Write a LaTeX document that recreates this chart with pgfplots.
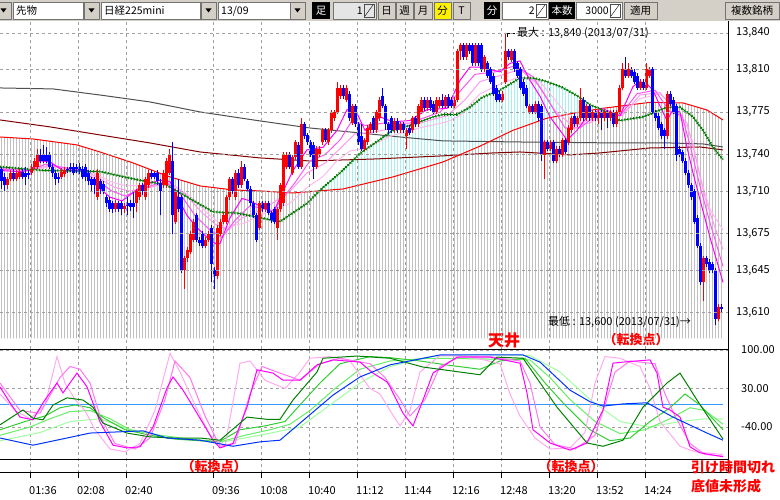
\documentclass[border=0pt]{standalone}
\usepackage{pgfplots}
\pgfplotsset{compat=1.18}
\usepackage{pgfplotstable}
\usepgfplotslibrary{fillbetween}
\usepackage{fontspec}
\setmainfont{Noto Sans CJK JP}

\definecolor{tbface}{HTML}{D4D0C8}
\definecolor{upred}{HTML}{FF0000}
\definecolor{dnblue}{HTML}{0000FF}
\definecolor{maroon}{HTML}{800000}
\definecolor{magray}{HTML}{505050}
\definecolor{magreen}{HTML}{007A00}
\definecolor{stripegray}{HTML}{C0C0C0}
\definecolor{stripecyan}{HTML}{A8F0F0}
\definecolor{gridgray}{HTML}{A0A0A0}
\definecolor{rib1}{HTML}{FF00FF}
\definecolor{rib2}{HTML}{FF55F5}
\definecolor{rib3}{HTML}{FF99F0}
\definecolor{rib4}{HTML}{FFBBEE}
\definecolor{oscblue}{HTML}{0033FF}
\definecolor{zeroblue}{HTML}{3399FF}
\definecolor{g1}{HTML}{008000}
\definecolor{g2}{HTML}{33CC33}
\definecolor{g3}{HTML}{66EE66}
\definecolor{g4}{HTML}{A0FFA0}
\definecolor{pk1}{HTML}{FF00FF}
\definecolor{pk2}{HTML}{FF77EE}
\definecolor{pk3}{HTML}{FFAAEE}

\newcommand\tbfont{\fontsize{10.5}{11}\selectfont}
\newcommand\lblfont{\fontsize{11}{12}\selectfont}
\newcommand\redfont[1]{\fontsize{#1}{#1}\selectfont\bfseries}

% toolbar pieces
\newcommand\ddbtn[1]{\filldraw[fill=tbface,draw=black!55] (#1,481) rectangle ++(15,17);
  \fill[black] (#1+4.5,491.5) -- ++(6,0) -- ++(-3,-4) -- cycle;}
\newcommand\field[3]{\filldraw[fill=white,draw=black!55] (#1,481) rectangle (#2,498);
  \node[anchor=west,inner sep=0pt,font=\tbfont] at (#1+3,489) {#3};}
\newcommand\btn[4]{\filldraw[fill=#4,draw=black!55] (#1,481) rectangle (#2,498);
  \node[font=\tbfont,inner sep=0pt] at ({(#1+#2)/2},489) {#3};}
\newcommand\blk[3]{\fill[black] (#1,481) rectangle (#2,498);
  \node[font=\tbfont,text=white,inner sep=0pt] at ({(#1+#2)/2},489) {#3};}
\newcommand\spin[4]{\filldraw[fill=#4,draw=black!55] (#1,481) rectangle (#2,498);
  \node[anchor=east,font=\tbfont,inner sep=0pt] at (#2-13,489) {#3};
  \draw[black!70] (#2-12,483) rectangle (#2-2,496); \draw (#2-11,484) -- (#2-3,495);}

\pgfplotsset{
  nomark/.style={only marks, mark=*, mark size=0pt, mark options={draw=none, fill=none}, forget plot},
  wick/.style={nomark,
    error bars/y dir=plus, error bars/y explicit, error bars/error mark=none,
    error bars/error bar style={line width=1pt, draw=#1, solid}},
  body/.style={nomark,
    error bars/y dir=plus, error bars/y explicit, error bars/error mark=none,
    error bars/error bar style={line width=3pt, draw=#1, solid}},
}

% 2-minute bars: bar index, open, high, low, close
\pgfplotstableread{
i o h l c
0 13728 13730 13712 13718
1 13722 13725 13710 13715
2 13715 13722 13712 13720
3 13720 13727 13718 13725
4 13725 13728 13718 13720
5 13720 13727 13718 13725
6 13722 13728 13720 13726
7 13726 13728 13720 13722
8 13725 13730 13715 13722
9 13725 13727 13720 13723
10 13725 13732 13723 13730
11 13730 13737 13728 13735
12 13730 13745 13728 13740
13 13740 13745 13733 13735
14 13740 13748 13733 13735
15 13740 13746 13733 13735
16 13740 13742 13728 13730
17 13730 13732 13722 13725
18 13725 13727 13715 13720
19 13722 13725 13717 13720
20 13722 13729 13720 13726
21 13724 13730 13722 13727
22 13728 13730 13725 13727
23 13730 13733 13726 13728
24 13730 13733 13723 13725
25 13730 13732 13725 13728
26 13730 13733 13724 13727
27 13728 13731 13720 13722
28 13730 13732 13718 13722
29 13725 13727 13715 13718
30 13720 13722 13710 13715
31 13720 13722 13708 13715
32 13705 13728 13703 13725
33 13718 13720 13708 13712
34 13716 13718 13708 13710
35 13705 13707 13697 13700
36 13703 13705 13693 13695
37 13700 13702 13692 13695
38 13695 13703 13693 13700
39 13700 13702 13693 13695
40 13700 13702 13690 13695
41 13695 13700 13692 13698
42 13700 13705 13690 13698
43 13700 13703 13694 13697
44 13700 13710 13688 13697
45 13700 13712 13693 13710
46 13705 13717 13703 13715
47 13715 13717 13707 13710
48 13705 13722 13703 13720
49 13715 13727 13713 13725
50 13725 13727 13720 13722
51 13725 13726 13720 13722
52 13725 13727 13715 13718
53 13717 13720 13690 13710
54 13715 13727 13713 13725
55 13715 13737 13713 13735
56 13725 13745 13723 13740
57 13735 13750 13675 13690
58 13685 13712 13683 13710
59 13705 13720 13693 13695
60 13705 13707 13643 13645
61 13645 13657 13630 13655
62 13655 13664 13652 13662
63 13660 13677 13658 13675
64 13670 13687 13668 13685
65 13690 13692 13668 13670
66 13670 13672 13665 13667
67 13675 13677 13663 13665
68 13665 13672 13663 13670
69 13670 13677 13668 13675
70 13680 13682 13635 13650
71 13645 13648 13630 13640
72 13640 13682 13638 13680
73 13675 13687 13673 13685
74 13685 13692 13683 13690
75 13685 13707 13683 13705
76 13705 13722 13703 13720
77 13720 13722 13708 13710
78 13705 13727 13703 13725
79 13725 13728 13713 13715
80 13715 13735 13713 13730
81 13730 13732 13718 13720
82 13718 13720 13710 13712
83 13712 13714 13698 13700
84 13700 13702 13688 13690
85 13690 13692 13668 13670
86 13680 13702 13678 13700
87 13700 13702 13693 13695
88 13695 13702 13693 13700
89 13700 13702 13690 13692
90 13692 13694 13684 13686
91 13695 13697 13683 13685
92 13680 13697 13670 13695
93 13695 13717 13693 13715
94 13700 13742 13698 13740
95 13730 13742 13728 13740
96 13740 13742 13728 13730
97 13725 13740 13723 13738
98 13738 13752 13736 13750
99 13748 13750 13728 13730
100 13730 13770 13728 13765
101 13765 13767 13753 13755
102 13756 13758 13748 13750
103 13750 13752 13738 13740
104 13748 13750 13720 13730
105 13730 13747 13728 13745
106 13740 13747 13738 13745
107 13750 13762 13748 13760
108 13760 13762 13750 13752
109 13750 13762 13748 13760
110 13760 13777 13758 13775
111 13770 13777 13768 13775
112 13775 13800 13773 13795
113 13788 13797 13786 13795
114 13795 13797 13786 13788
115 13785 13797 13783 13795
116 13790 13792 13768 13770
117 13766 13782 13764 13780
118 13780 13782 13763 13765
119 13765 13767 13748 13750
120 13755 13765 13743 13745
121 13745 13754 13743 13752
122 13750 13764 13748 13762
123 13760 13767 13758 13765
124 13770 13772 13758 13760
125 13760 13777 13758 13775
126 13770 13787 13768 13785
127 13788 13795 13778 13780
128 13780 13782 13760 13765
129 13765 13767 13757 13760
130 13770 13772 13758 13760
131 13760 13770 13758 13768
132 13768 13770 13758 13760
133 13760 13767 13758 13765
134 13765 13767 13758 13760
135 13755 13762 13745 13760
136 13762 13764 13756 13758
137 13760 13772 13758 13770
138 13770 13772 13763 13765
139 13765 13782 13763 13780
140 13775 13787 13773 13785
141 13785 13787 13776 13778
142 13778 13787 13776 13785
143 13785 13787 13776 13778
144 13782 13784 13773 13775
145 13775 13787 13773 13785
146 13780 13787 13778 13785
147 13785 13790 13778 13780
148 13780 13789 13778 13787
149 13787 13790 13778 13780
150 13785 13787 13778 13780
151 13780 13787 13778 13785
152 13785 13827 13783 13825
153 13825 13832 13818 13830
154 13830 13832 13818 13820
155 13820 13832 13818 13830
156 13830 13832 13823 13825
157 13830 13832 13813 13815
158 13815 13832 13813 13830
159 13830 13832 13813 13815
160 13830 13832 13808 13810
161 13810 13822 13808 13820
162 13815 13817 13803 13805
163 13810 13812 13798 13800
164 13805 13807 13788 13790
165 13795 13797 13783 13785
166 13790 13792 13783 13785
167 13785 13792 13783 13790
168 13800 13840 13798 13825
169 13825 13827 13818 13820
170 13818 13827 13816 13825
171 13825 13827 13808 13810
172 13815 13817 13803 13805
173 13810 13812 13793 13795
174 13800 13802 13788 13790
175 13795 13797 13778 13780
176 13775 13782 13773 13780
177 13780 13782 13773 13775
178 13775 13784 13773 13782
179 13782 13784 13768 13770
180 13780 13782 13735 13740
181 13740 13752 13720 13750
182 13750 13752 13743 13745
183 13745 13752 13743 13750
184 13750 13752 13733 13735
185 13735 13747 13733 13745
186 13745 13747 13738 13740
187 13740 13754 13738 13752
188 13752 13754 13740 13742
189 13750 13764 13748 13762
190 13760 13772 13758 13770
191 13772 13774 13763 13765
192 13765 13772 13763 13770
193 13770 13795 13768 13785
194 13785 13787 13768 13770
195 13770 13782 13768 13780
196 13780 13782 13768 13770
197 13770 13777 13768 13775
198 13775 13777 13768 13770
199 13770 13777 13765 13775
200 13775 13777 13760 13770
201 13770 13777 13768 13775
202 13775 13777 13762 13770
203 13770 13777 13768 13775
204 13775 13777 13763 13765
205 13765 13777 13763 13775
206 13775 13797 13773 13795
207 13795 13815 13793 13810
208 13810 13820 13803 13805
209 13805 13815 13803 13810
210 13810 13812 13803 13805
211 13808 13810 13798 13800
212 13805 13807 13793 13795
213 13795 13802 13793 13800
214 13800 13802 13793 13795
215 13795 13815 13793 13810
216 13805 13812 13803 13810
217 13810 13812 13773 13775
218 13775 13777 13768 13770
219 13772 13774 13760 13762
220 13765 13767 13753 13755
221 13760 13762 13745 13755
222 13755 13792 13753 13790
223 13790 13792 13780 13782
224 13785 13787 13773 13775
225 13780 13782 13735 13740
226 13745 13747 13738 13740
227 13742 13744 13733 13735
228 13735 13737 13723 13725
229 13725 13727 13713 13715
230 13715 13717 13703 13705
231 13710 13712 13683 13685
232 13688 13690 13663 13665
233 13665 13667 13633 13635
234 13635 13657 13620 13655
235 13655 13657 13648 13650
236 13652 13654 13643 13645
237 13650 13652 13643 13645
238 13645 13647 13600 13605
239 13605 13617 13603 13615
240 13615 13617 13611 13613
}\candles

% moving averages (x = chart position, same scale as the bars)
\pgfplotstableread{
x y
0 13754.5
33 13752.9
77 13748
100 13742.2
133 13733.2
167 13722.5
200 13714.3
233 13711
260 13710.2
293 13708.5
343 13711.8
393 13721.7
443 13734
480 13747
513 13760
547 13770
580 13775
602 13778
650 13783
683 13782.5
700 13778.4
707 13776.7
723 13768.5
}\redma

\pgfplotstableread{
x y
0 13730
43.5 13727
100.5 13726
139.5 13719
166.5 13715
187.5 13705
213 13693
237 13692
273 13686
280 13685
307 13700
323 13713
340 13725
360 13741
393 13760
410 13764
433 13771
443 13773
457 13773
470 13779
482 13787
500 13793
520 13803
533 13803
547 13800
563 13795
580 13787
590 13781
602 13777
620 13768
643 13771
667 13779
680 13779
693 13771
703 13760
713 13746
723 13736
}\greenma

\pgfplotstableread{
x y
0 13768.5
50 13762.8
100 13756.2
150 13749.6
200 13742.2
260 13737.3
310 13734.8
377 13736.5
443 13739
493 13741.4
520 13742.2
570 13739.8
600 13741.4
650 13745.5
700 13746.3
723 13743.9
}\maroonma

\pgfplotstableread{
x y
0 13794.8
53 13794
100 13789
150 13783.3
200 13775.1
260 13767.7
310 13761.9
360 13757.8
400 13754.5
443 13751.3
520 13750.4
620 13749.6
670 13749.6
703 13748.8
723 13746.3
}\grayma

\begin{document}
\begin{tikzpicture}[x=1pt,y=1pt]

% ---- price panel ----
\begin{axis}[
  at={(0pt,151pt)}, anchor=south west, scale only axis,
  width=728pt, height=327pt,
  xmin=0, xmax=728, ymin=13580.3, ymax=13849,
  axis line style={draw=none}, tick style={draw=none},
  axis on top,
  xtick={30,78,126,213,261,309,357,405,453,501,549,597,645},
  xticklabels={},
  ytick={13610,13645,13675,13710,13740,13775,13810,13840},
  yticklabels={{13,610},{13,645},{13,675},{13,710},{13,740},{13,775},{13,810},{13,840}},
  yticklabel pos=right,
  yticklabel style={anchor=west, inner sep=0pt, xshift=8pt, font=\lblfont},
  grid=major,
  grid style={draw=gridgray, line width=0.8pt, dash pattern=on 3pt off 3pt},
]
\addplot[draw=none, name path=redpath, forget plot] table {\redma};
\addplot[draw=none, name path=greenpath, forget plot] table {\greenma};
\addplot[draw=none, name path=bot, forget plot] coordinates {(0,13589) (728,13589)};
\addplot[fill=stripegray, draw=none, forget plot]
  fill between[of=redpath and bot, soft clip={domain=0:723}];
\addplot[fill=stripecyan, draw=none, forget plot]
  fill between[of=greenpath and redpath, soft clip={domain=316:600}];
% white gaps between the per-bar stripes (kept inside the panel)
\addplot[nomark, error bars/y dir=plus, error bars/y explicit, error bars/error mark=none,
  error bars/error bar style={line width=1.6pt, draw=white, solid}]
  table[x expr=3*\thisrow{i}+3, y expr=13588, y error plus expr=255] {\candles};
\addplot[nomark, error bars/y dir=plus, error bars/y explicit, error bars/error mark=none,
  error bars/error bar style={line width=1.6pt, draw=white, solid}]
  coordinates {(0,13588) +- (0,255)};

\addplot[magray, line width=1pt] table {\grayma};
\addplot[maroon, line width=1pt] table {\maroonma};
\addplot[upred, line width=1pt] table {\redma};

% fast average ribbon
\addplot[rib4, line width=1pt] coordinates {
(0,13729)(30,13727)(50,13730)(73,13728)(93,13725)(110,13718)(122,13715)(150,13714)
(170,13716)(190,13706)(210,13690)(225,13680)(245,13684)(270,13694)(290,13700)(307,13713)
(323,13722)(337,13735)(350,13743)(365,13745)(390,13755)(420,13762)(447,13767)(460,13772)
(480,13790)(500,13798)(520,13804)(540,13800)(560,13780)(575,13765)(590,13768)(602,13772)
(620,13772)(640,13786)(660,13790)(673,13780)(687,13763)(693,13750)(700,13722)(710,13695)(723,13678)};
\addplot[rib3, line width=1pt] coordinates {
(0,13729)(30,13727)(48,13731)(65,13729)(85,13727)(100,13720)(115,13713)(130,13710)
(150,13713)(170,13717)(185,13708)(200,13694)(215,13683)(228,13678)(242,13688)(265,13696)
(290,13710)(307,13725)(325,13733)(340,13745)(355,13757)(370,13758)(395,13762)(420,13766)
(447,13772)(465,13785)(480,13800)(500,13805)(520,13810)(540,13796)(555,13776)(572,13764)
(590,13766)(605,13774)(622,13772)(640,13789)(660,13791)(675,13776)(687,13766)(695,13740)
(705,13705)(715,13680)(723,13662)};
\addplot[rib2, line width=1pt] coordinates {
(0,13728)(30,13727)(45,13732)(60,13730)(80,13727)(95,13720)(112,13710)(125,13706)
(145,13713)(165,13718)(180,13708)(195,13690)(210,13678)(222,13672)(235,13686)(250,13698)
(273,13694)(295,13717)(310,13735)(325,13740)(340,13752)(352,13768)(365,13764)(385,13766)
(410,13766)(440,13775)(460,13792)(475,13806)(495,13808)(515,13813)(533,13804)(550,13782)
(565,13762)(580,13762)(602,13776)(620,13772)(637,13790)(655,13793)(670,13775)(682,13772)
(690,13748)(700,13714)(710,13684)(723,13648)};
\addplot[rib1, line width=1pt] coordinates {
(0,13727)(20,13726)(30,13727)(40,13735)(50,13734)(63,13727)(73,13727)(83,13727)
(93,13717)(110,13705)(122,13702)(143,13715)(160,13719)(170,13718)(180,13701)(187,13690)
(197,13680)(207,13672)(217,13666)(220,13667)(230,13688)(242,13704)(250,13702)(273,13692)
(293,13727)(307,13744)(323,13746)(337,13760)(347,13777)(357,13774)(365,13760)(380,13771)
(393,13767)(410,13768)(427,13777)(447,13778)(460,13801)(470,13812)(480,13812)(490,13810)
(500,13808)(510,13815)(520,13817)(530,13801)(540,13788)(550,13771)(560,13760)(567,13752)
(577,13760)(587,13771)(602,13778)(620,13772)(633,13796)(640,13800)(647,13798)(653,13793)
(660,13780)(667,13768)(673,13777)(680,13775)(687,13746)(693,13725)(700,13703)(710,13672)(723,13635)};

% dotted green average
\addplot[magreen, line width=0.8pt] table {\greenma};
\addplot[magreen, line width=2.6pt, dash pattern=on 0.9pt off 2.1pt] table {\greenma};

% candles: wicks then bodies
\addplot[wick=upred, restrict expr to domain={\thisrow{c}-\thisrow{o}}{0:1000}]
  table[x expr=3*\thisrow{i}+1.5, y=l, y error plus expr=\thisrow{h}-\thisrow{l}] {\candles};
\addplot[wick=dnblue, restrict expr to domain={\thisrow{c}-\thisrow{o}}{-1000:-0.5}]
  table[x expr=3*\thisrow{i}+1.5, y=l, y error plus expr=\thisrow{h}-\thisrow{l}] {\candles};
\addplot[body=upred, restrict expr to domain={\thisrow{c}-\thisrow{o}}{0:1000}]
  table[x expr=3*\thisrow{i}+1.5, y=o, y error plus expr={max(\thisrow{c}-\thisrow{o},1)}] {\candles};
\addplot[body=dnblue, restrict expr to domain={\thisrow{c}-\thisrow{o}}{-1000:-0.5}]
  table[x expr=3*\thisrow{i}+1.5, y=c, y error plus expr={max(\thisrow{o}-\thisrow{c},1)}] {\candles};
\end{axis}

% ---- toolbar ----
\fill[tbface] (0,479) rectangle (780,500);
\ddbtn{-4}
\field{13}{83}{先物}\ddbtn{84}
\field{101}{200}{日経225mini}\ddbtn{201}
\field{218}{290}{13/09}\ddbtn{290}
\blk{312}{330}{足}
\spin{333}{376}{1}{black!10}
\btn{378}{395}{日}{tbface}
\btn{396}{413}{週}{tbface}
\btn{414}{432}{月}{tbface}
\btn{434}{451}{分}{yellow}
\btn{453}{470}{T}{tbface}
\blk{484}{500}{分}
\spin{502}{548}{2}{white}
\blk{549}{575}{本数}
\spin{576}{622}{3000}{white}
\btn{624}{657}{適用}{tbface}
\btn{725}{779}{複数銘柄}{tbface}

% ---- oscillator panel ----
\begin{axis}[
  at={(0pt,27pt)}, anchor=south west, scale only axis,
  width=728pt, height=124pt,
  xmin=0, xmax=728, ymin=-123.6, ymax=101.8,
  axis line style={draw=none},
  xtick={30,78,126,213,261,309,357,405,453,501,549,597,645},
  xticklabels={01:36,02:08,02:40,09:36,10:08,10:40,11:12,11:44,12:16,12:48,13:20,13:52,14:24},
  xtick pos=left, tick align=outside, major tick length=5pt,
  xtick style={draw=black, line width=0.8pt},
  xticklabel style={anchor=north west, inner sep=0pt, yshift=-8pt, xshift=-1pt, font=\lblfont},
  ytick={-40,30,100},
  yticklabels={-40.00,30.00,100.00},
  yticklabel pos=right, ytick style={draw=none},
  yticklabel style={anchor=west, inner sep=0pt, xshift=8pt, font=\lblfont},
  grid=major,
  grid style={draw=gridgray, line width=0.8pt, dash pattern=on 3pt off 3pt},
]
\addplot[zeroblue, line width=1pt] coordinates {(0,0) (723,0)};
\addplot[g4, line width=1pt] coordinates {
(0,-65)(40,-50)(70,-30)(100,-25)(130,-45)(170,-60)(220,-68)(260,-55)(300,-40)(330,0)
(360,40)(390,70)(430,88)(480,92)(530,90)(560,60)(590,10)(620,-30)(650,-40)(680,-30)(705,-25)(723,-25)};
\addplot[g3, line width=1pt] coordinates {
(0,-55)(30,-40)(50,-25)(70,-12)(90,-10)(110,-25)(130,-45)(160,-55)(190,-62)(220,-67)
(245,-55)(270,-45)(290,-35)(310,-10)(335,30)(360,65)(390,80)(430,85)(470,84)(510,83)
(530,82)(550,50)(570,10)(595,-30)(620,-52)(645,-45)(670,-25)(690,-5)(705,-10)(723,-35)};
\addplot[g2, line width=1pt] coordinates {
(0,-45)(25,-30)(45,-20)(60,-5)(75,0)(90,-5)(105,-25)(125,-45)(150,-55)(175,-62)(200,-65)
(220,-66)(240,-45)(265,-38)(285,-30)(300,0)(320,40)(340,75)(370,88)(390,86)(420,80)
(450,72)(480,65)(500,80)(525,85)(545,40)(565,0)(590,-45)(610,-65)(630,-60)(650,-30)
(670,-5)(685,20)(700,0)(723,-45)};
\addplot[pk3, line width=1pt] coordinates {
(0,20)(15,-10)(30,-25)(45,0)(57,88)(65,40)(75,10)(85,-10)(95,-45)(110,-80)(125,-85)
(140,-70)(155,-10)(170,94)(180,60)(195,0)(210,-55)(225,-75)(240,76)(250,80)(265,45)
(285,30)(300,60)(310,85)(330,88)(350,80)(370,30)(380,20)(390,-10)(400,-38)(410,-10)
(420,60)(440,90)(470,88)(500,75)(510,20)(520,-20)(535,-60)(550,-80)(570,-78)(585,-50)
(595,40)(605,88)(620,85)(640,70)(650,30)(660,-30)(680,-75)(695,-85)(723,-90)};
\addplot[pk2, line width=1pt] coordinates {
(0,40)(20,-10)(40,-15)(60,50)(70,70)(80,65)(90,40)(100,-20)(115,-70)(135,-80)(150,-60)
(165,10)(175,80)(190,50)(205,-20)(220,-75)(235,-70)(250,20)(262,70)(280,58)(300,45)
(320,75)(340,85)(370,75)(385,50)(400,10)(410,-20)(425,10)(440,70)(460,88)(490,88)
(520,80)(530,40)(540,-40)(555,-72)(575,-80)(595,-55)(605,0)(615,60)(630,80)(655,75)
(665,20)(675,-20)(690,-70)(705,-90)(723,-93)};
\addplot[pk1, line width=1pt] coordinates {
(0,33)(10,4)(20,-22)(33,-27)(43,4)(57,40)(63,22)(77,58)(87,33)(100,-31)(113,-73)
(127,-78)(140,-76)(153,-40)(167,31)(173,51)(183,27)(200,-24)(213,-64)(220,-78)(233,-70)
(247,-4)(257,64)(273,58)(283,45)(300,45)(317,73)(333,82)(360,78)(373,58)(387,42)
(390,33)(403,-15)(413,-38)(423,9)(433,58)(457,87)(490,87)(520,76)(527,22)(533,-45)
(550,-69)(570,-82)(587,-69)(603,-9)(613,76)(623,78)(650,82)(657,58)(663,-4)(670,-9)
(680,-22)(690,-76)(700,-87)(723,-94)};
\addplot[g1, line width=1pt] coordinates {
(0,-36)(23,-9)(33,-24)(43,-27)(53,0)(67,13)(83,9)(93,-4)(103,-33)(127,-51)(150,-58)
(173,-60)(200,-60)(220,-64)(247,-22)(267,-26)(280,-26)(293,9)(317,60)(323,85)(357,89)
(390,85)(423,69)(480,55)(497,87)(523,85)(557,-4)(587,-69)(603,-75)(623,-64)(643,-4)
(667,40)(680,58)(697,9)(723,-62)};
\addplot[oscblue, line width=1pt] coordinates {
(0,-60)(33,-73)(67,-60)(90,-51)(143,-47)(167,-60)(200,-64)(233,-75)(260,-67)(280,-64)
(300,-33)(333,18)(360,51)(390,73)(440,91)(523,91)(540,78)(570,27)(590,6)(603,-2)
(623,2)(647,4)(673,-22)(707,-51)(723,-64)};
\end{axis}

% frame lines
\draw[black, line width=1.2pt] (0,150.5) -- (729,150.5);
\draw[black, line width=1pt] (0,40) -- (729,40);
\draw[black, line width=1pt] (0,27) -- (729,27);
\draw[black, line width=1pt] (728.5,479) -- (728.5,27);

% annotations
\draw[black, line width=0.6pt] (507,463) -- (507,467) -- (515,467);
\node[anchor=west, inner sep=0pt, font=\lblfont] at (517,467) {最大 : 13,840 (2013/07/31)};
\node[anchor=west, inner sep=0pt, font=\lblfont] at (548,178) {最低 : 13,600 (2013/07/31)→};
\node[text=upred, font=\redfont{16}] at (504,160) {天井};
\node[text=upred, font=\redfont{13}] at (636,160) {（転換点）};
\node[text=upred, font=\redfont{13}] at (214,33) {（転換点）};
\node[text=upred, font=\redfont{13}] at (571,33) {（転換点）};
\node[text=upred, font=\redfont{14}, inner sep=0pt] at (733,33) {引け時間切れ};
\node[text=upred, font=\redfont{14}, inner sep=0pt] at (726,14) {底値未形成};

\pgfresetboundingbox
\path[use as bounding box] (0,0) rectangle (780,500);
\end{tikzpicture}
\end{document}
